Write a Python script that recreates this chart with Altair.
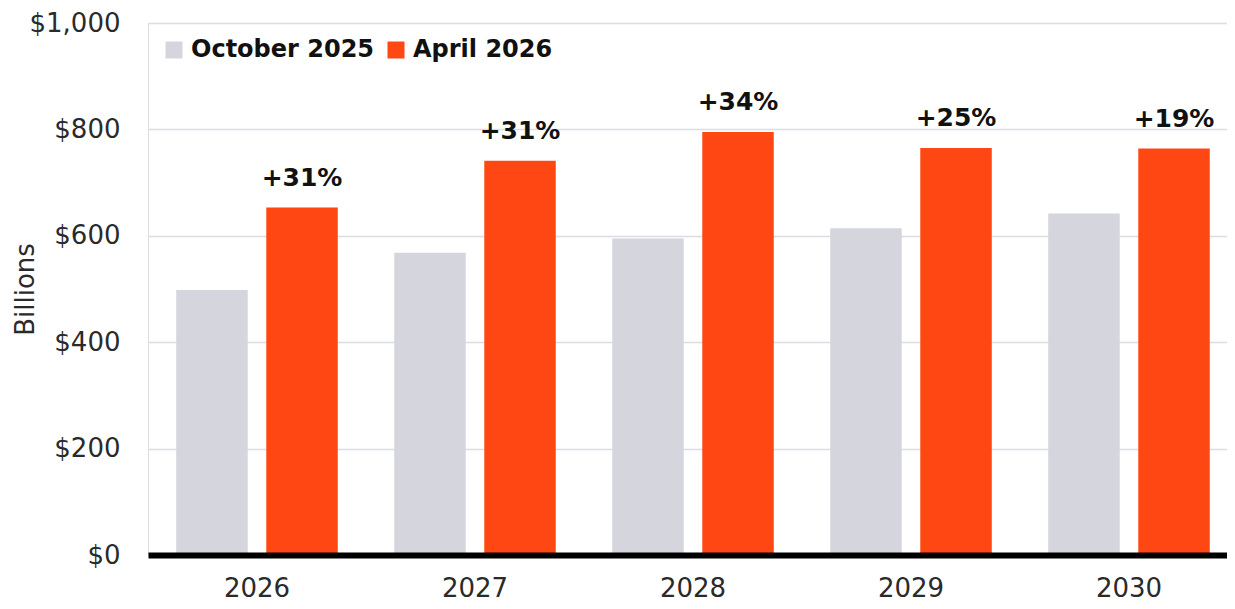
import altair as alt
import pandas as pd

years = ["2026", "2027", "2028", "2029", "2030"]
oct_2025 = [498, 568, 595, 614, 642]
apr_2026 = [653, 741, 795, 765, 764]
pct_labels = ["+31%", "+31%", "+34%", "+25%", "+19%"]
series = ["October 2025", "April 2026"]
colors = ["#D5D5DE", "#FF4713"]
y_ticks = [0, 200, 400, 600, 800, 1000]

rows = []
for yr, o, a in zip(years, oct_2025, apr_2026):
    rows.append({"year": yr, "series": series[0], "value": o})
    rows.append({"year": yr, "series": series[1], "value": a})
df = pd.DataFrame(rows)
lab = pd.DataFrame({"year": years, "series": [series[1]] * len(years),
                    "value": apr_2026, "label": pct_labels})

W = 1079
H = 532
FONT = "DejaVu Sans"

x_enc = alt.X(
    "year:N", sort=years, title=None,
    scale=alt.Scale(range=[0, 1090], paddingInner=0.259, paddingOuter=0.1295),
    axis=alt.Axis(labelFont=FONT, labelFontSize=26, labelColor="#2a2a2a",
                  ticks=False, domainColor="#000000", domainWidth=6,
                  labelPadding=41, labelBaseline="alphabetic", labelAngle=0,
                  grid=False, zindex=1),
)
xo_enc = alt.XOffset("series:N", sort=series,
                     scale=alt.Scale(domain=series, paddingInner=0.206, paddingOuter=0))
y_enc = alt.Y(
    "value:Q",
    scale=alt.Scale(domain=[0, 1000], nice=False),
    axis=alt.Axis(values=y_ticks, format="$,.0f", title="Billions",
                  labelFont=FONT, labelFontSize=26, labelColor="#2a2a2a",
                  labelPadding=28, ticks=False, domain=False,
                  gridColor="#DCDCE3", gridWidth=1.5,
                  titleFont=FONT, titleFontSize=26, titleFontWeight="normal",
                  titleColor="#2a2a2a", titleX=-115, titleY=H / 2,
                  titleBaseline="alphabetic", titleAlign="center", titleAngle=270),
)

bars = alt.Chart(df).mark_bar().encode(
    x=x_enc,
    xOffset=xo_enc,
    y=y_enc,
    color=alt.Color(
        "series:N", sort=series,
        scale=alt.Scale(domain=series, range=colors),
        legend=alt.Legend(orient="none", legendX=14, legendY=15,
                          direction="horizontal", title=None,
                          symbolType="square", symbolSize=289,
                          symbolStrokeWidth=0, labelFont=FONT,
                          labelFontWeight="bold", labelFontSize=24,
                          labelColor="#111111", labelOffset=5,
                          labelLimit=0, columnPadding=9, padding=0),
    ),
)

texts = alt.Chart(lab).mark_text(
    font=FONT, fontWeight="bold", fontSize=25, baseline="alphabetic",
    dy=-22, color="#111111",
).encode(
    x=alt.X("year:N", sort=years),
    xOffset=alt.XOffset("series:N", sort=series),
    y=alt.Y("value:Q"),
    text="label:N",
)

chart = alt.layer(bars, texts).properties(
    width=W, height=H,
    autosize=alt.AutoSizeParams(type="none"),
    padding={"left": 140, "top": 15, "right": 0, "bottom": 46},
).configure_view(stroke=None).configure(background="white")

chart.save("out.html", embed_options={"renderer": "svg", "actions": False})
